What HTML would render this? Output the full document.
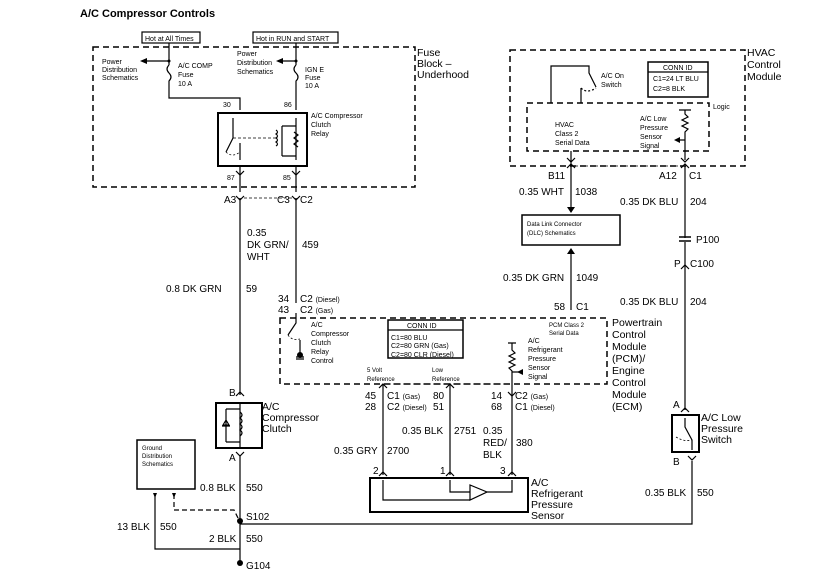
<!DOCTYPE html>
<html><head><meta charset="utf-8"><style>
html,body{margin:0;padding:0;background:#fff}
svg{display:block}
text{font-family:"Liberation Sans",Arial,sans-serif;fill:#000}
.s{font-size:7px}.m{font-size:10px}.l{font-size:10.5px}.xs{font-size:6px}
</style></head><body>
<svg width="836" height="575" viewBox="0 0 836 575" xmlns="http://www.w3.org/2000/svg">
<g fill="none" stroke="#000" stroke-width="1.2">
<rect x="93" y="47" width="322" height="140" stroke-dasharray="6,4" stroke-width="1.5"/>
<rect x="510" y="50" width="235" height="116" stroke-dasharray="6,4" stroke-width="1.5"/>
<rect x="527" y="103" width="182" height="48" stroke-dasharray="6,4" stroke-width="1.5"/>
<rect x="280" y="318" width="327" height="66" stroke-dasharray="6,4" stroke-width="1.5"/>
<rect x="142" y="32" width="58" height="11"/>
<rect x="253" y="32" width="85" height="11"/>
<path d="M169 43V65 M169 61H146 M169 65q-4 4 0 8q4 4 0 8V98H240V110"/>
<path d="M296 43V65 M296 61H278 M296 65q-4 4 0 8q4 4 0 8V110"/>
<rect x="218" y="113" width="89" height="53" stroke-width="2"/>
<path d="M233 118V138L226 152 M240 143V160 M296 118V160 M282 126H296 M282 156H296 M282 126V156"/>
<path d="M294 132l4 3-4 3 4 3-4 3 4 3" />
<path d="M276 130q3 2 0 4q3 2 0 4q3 2 0 4q3 2 0 4" />
<path d="M233 138H276" stroke-dasharray="3,2" stroke-width="0.8"/>
<path d="M226 152q6 6 14 0" stroke-dasharray="2,2" stroke-width="0.8"/>
<path d="M240 166V192 M296 166V192 M240 198V395 M296 198V303"/>
<path d="M236 171l4 4 4-4 M292 171l4 4 4-4 M236 196l4 4 4-4 M292 196l4 4 4-4"/>
<path d="M244 198H292" stroke-dasharray="3,2" stroke-width="0.7"/>
<rect x="216" y="403" width="46" height="45" stroke-width="2"/>
<path d="M240 403V448 M226 409H240 M226 442H240 M226 409V442 M222 426h8 M226 420l-3 5h6z"/>
<path d="M240 412q4 3 0 6q4 3 0 6q4 3 0 6q4 3 0 6"/>
<path d="M236 396l4-4 4 4 M236 452l4 4 4-4"/>
<path d="M240 456V563"/>
<rect x="137" y="440" width="58" height="49" stroke-width="1.5"/>
<path d="M155 494V549H240"/>
<path d="M174 494V510H234l6 12" stroke-dasharray="5,3"/>
<path d="M240 524H692V461"/>
<rect x="388" y="320" width="75" height="38" stroke-width="1.5"/>
<path d="M388 330H463"/>
<path d="M296 313V323L288 335 M300 340V355 M296 357h8 M296 359h8" />
<path d="M288 335q4 6 12 4" stroke-dasharray="2,2" stroke-width="0.8"/>
<path d="M508 343H516 M512 343V350l3 3-6 3 6 3-6 3 6 3-6 3 3 3V388 M512 372H520"/>
<path d="M383 384V475 M450 384V475 M512 388V475"/>
<path d="M388 384H508" stroke-dasharray="3,2" stroke-width="0.7"/>
<path d="M379 388l4-4 4 4 M446 388l4-4 4 4 M508 392l4 4 4-4 M379 476l4-4 4 4 M446 476l4-4 4 4 M508 476l4-4 4 4"/>
<rect x="370" y="478" width="158" height="34" stroke-width="2"/>
<path d="M383 480V500H470 M450 480V492H470 M470 485V500L487 492z M487 492H512V480"/>
<rect x="648" y="62" width="60" height="35" stroke-width="1.5"/>
<path d="M648 72H708"/>
<path d="M551 103V66H589V73L596 87 M581 88V103"/>
<path d="M581 88q6 6 15 0" stroke-dasharray="2,2"/>
<path d="M679 110H691 M685 110V114l3 3-6 3 6 3-6 3 6 3-3 3V160 M685 140H676"/>
<path d="M571 151V207 M567 158l4 4 4-4 M681 158l4 4 4-4 M567 168l4-4 4 4 M681 168l4-4 4 4"/>
<path d="M575 166H681" stroke-dasharray="3,2" stroke-width="0.7"/>
<path d="M685 166V238 M685 242V410"/>
<path d="M679 237h12 M679 241h12" stroke-width="1.5"/>
<path d="M681 269l4-4 4 4"/>
<rect x="522" y="215" width="98" height="30" stroke-width="1.5"/>
<path d="M571 310V254"/>
<rect x="672" y="415" width="27" height="37" stroke-width="2"/>
<path d="M681 412l4-4 4 4 M685 418V427L692 440V450 M688 456l4 4 4-4"/>
<path d="M676 437q8 5 16 3" stroke-dasharray="2,2" stroke-width="0.8"/>
</g>
<g fill="#000">
<path d="M140 61l7-3v6z M276 61l7-3v6z M567 207h8l-4 6z M567 254h8l-4-6z M674 140l6-3v6z M517 372l6-3v6z"/>
<path d="M153 493h4l-2 5z M172 493h4l-2 5z"/>
<circle cx="240" cy="521" r="3"/><circle cx="240" cy="563" r="3"/>
<circle cx="169" cy="61" r="1.5"/><circle cx="296" cy="61" r="1.5"/>
<circle cx="300" cy="355" r="3"/>
</g>
<text x="80" y="17" style="font-size:11px;font-weight:bold">A/C Compressor Controls</text>
<text x="145" y="41" class="s">Hot at All Times</text>
<text x="256" y="41" class="s">Hot in RUN and START</text>
<text x="102" y="64" class="s">Power</text><text x="102" y="72" class="s">Distribution</text><text x="102" y="80" class="s">Schematics</text>
<text x="237" y="56" class="s">Power</text><text x="237" y="65" class="s">Distribution</text><text x="237" y="74" class="s">Schematics</text>
<text x="178" y="68" class="s">A/C COMP</text><text x="178" y="77" class="s">Fuse</text><text x="178" y="86" class="s">10 A</text>
<text x="305" y="72" class="s">IGN E</text><text x="305" y="80" class="s">Fuse</text><text x="305" y="88" class="s">10 A</text>
<text x="223" y="107" class="s">30</text><text x="284" y="107" class="s">86</text>
<text x="311" y="118" class="s">A/C Compressor</text><text x="311" y="127" class="s">Clutch</text><text x="311" y="136" class="s">Relay</text>
<text x="227" y="180" class="s">87</text><text x="283" y="180" class="s">85</text>
<text x="417" y="56" class="l">Fuse</text><text x="417" y="67" class="l">Block –</text><text x="417" y="78" class="l">Underhood</text>
<text x="224" y="203" class="m">A3</text><text x="277" y="203" class="m">C3</text><text x="300" y="203" class="m">C2</text>
<text x="247" y="236" class="m">0.35</text><text x="247" y="248" class="m">DK GRN/</text><text x="247" y="260" class="m">WHT</text>
<text x="302" y="248" class="m">459</text>
<text x="166" y="292" class="m">0.8 DK GRN</text><text x="246" y="292" class="m">59</text>
<text x="278" y="302" class="m">34</text><text x="300" y="302" class="m">C2 <tspan class="s">(Diesel)</tspan></text>
<text x="278" y="313" class="m">43</text><text x="300" y="313" class="m">C2 <tspan class="s">(Gas)</tspan></text>
<text x="311" y="327" class="s">A/C</text><text x="311" y="336" class="s">Compressor</text><text x="311" y="345" class="s">Clutch</text><text x="311" y="354" class="s">Relay</text><text x="311" y="363" class="s">Control</text>
<text x="407" y="328" class="s">CONN ID</text>
<text x="391" y="340" class="s">C1=80 BLU</text><text x="391" y="348" class="s">C2=80 GRN (Gas)</text><text x="391" y="357" class="s">C2=80 CLR (Diesel)</text>
<text x="367" y="372" class="xs">5 Volt</text><text x="367" y="381" class="xs">Reference</text>
<text x="432" y="372" class="xs">Low</text><text x="432" y="381" class="xs">Reference</text>
<text x="549" y="327" class="xs">PCM Class 2</text><text x="549" y="335" class="xs">Serial Data</text>
<text x="528" y="343" class="s">A/C</text><text x="528" y="352" class="s">Refrigerant</text><text x="528" y="361" class="s">Pressure</text><text x="528" y="370" class="s">Sensor</text><text x="528" y="379" class="s">Signal</text>
<text x="612" y="326" class="l">Powertrain</text><text x="612" y="338" class="l">Control</text><text x="612" y="350" class="l">Module</text><text x="612" y="362" class="l">(PCM)/</text><text x="612" y="374" class="l">Engine</text><text x="612" y="386" class="l">Control</text><text x="612" y="398" class="l">Module</text><text x="612" y="410" class="l">(ECM)</text>
<text x="365" y="399" class="m">45</text><text x="387" y="399" class="m">C1 <tspan class="s">(Gas)</tspan></text>
<text x="365" y="410" class="m">28</text><text x="387" y="410" class="m">C2 <tspan class="s">(Diesel)</tspan></text>
<text x="433" y="399" class="m">80</text><text x="433" y="410" class="m">51</text>
<text x="491" y="399" class="m">14</text><text x="515" y="399" class="m">C2 <tspan class="s">(Gas)</tspan></text>
<text x="491" y="410" class="m">68</text><text x="515" y="410" class="m">C1 <tspan class="s">(Diesel)</tspan></text>
<text x="402" y="434" class="m">0.35 BLK</text><text x="454" y="434" class="m">2751</text>
<text x="483" y="434" class="m">0.35</text><text x="483" y="446" class="m">RED/</text><text x="483" y="458" class="m">BLK</text><text x="516" y="446" class="m">380</text>
<text x="334" y="454" class="m">0.35 GRY</text><text x="387" y="454" class="m">2700</text>
<text x="373" y="474" class="m">2</text><text x="440" y="474" class="m">1</text><text x="500" y="474" class="m">3</text>
<text x="531" y="486" class="l">A/C</text><text x="531" y="497" class="l">Refrigerant</text><text x="531" y="508" class="l">Pressure</text><text x="531" y="519" class="l">Sensor</text>
<text x="229" y="396" class="m">B</text><text x="229" y="461" class="m">A</text>
<text x="262" y="410" class="l">A/C</text><text x="262" y="421" class="l">Compressor</text><text x="262" y="432" class="l">Clutch</text>
<text x="142" y="450" class="xs">Ground</text><text x="142" y="458" class="xs">Distribution</text><text x="142" y="466" class="xs">Schematics</text>
<text x="200" y="491" class="m">0.8 BLK</text><text x="246" y="491" class="m">550</text>
<text x="246" y="520" class="m">S102</text>
<text x="117" y="530" class="m">13 BLK</text><text x="160" y="530" class="m">550</text>
<text x="209" y="542" class="m">2 BLK</text><text x="246" y="542" class="m">550</text>
<text x="246" y="569" class="m">G104</text>
<text x="601" y="78" class="s">A/C On</text><text x="601" y="87" class="s">Switch</text>
<text x="663" y="70" class="s">CONN ID</text><text x="653" y="81" class="s">C1=24 LT BLU</text><text x="653" y="91" class="s">C2=8 BLK</text>
<text x="713" y="109" class="s">Logic</text>
<text x="555" y="127" class="s">HVAC</text><text x="555" y="136" class="s">Class 2</text><text x="555" y="145" class="s">Serial Data</text>
<text x="640" y="121" class="s">A/C Low</text><text x="640" y="130" class="s">Pressure</text><text x="640" y="139" class="s">Sensor</text><text x="640" y="148" class="s">Signal</text>
<text x="747" y="56" class="l">HVAC</text><text x="747" y="68" class="l">Control</text><text x="747" y="80" class="l">Module</text>
<text x="548" y="179" class="m">B11</text><text x="659" y="179" class="m">A12</text><text x="689" y="179" class="m">C1</text>
<text x="519" y="195" class="m">0.35 WHT</text><text x="575" y="195" class="m">1038</text>
<text x="620" y="205" class="m">0.35 DK BLU</text><text x="690" y="205" class="m">204</text>
<text x="527" y="226" class="xs">Data Link Connector</text><text x="527" y="235" class="xs">(DLC) Schematics</text>
<text x="696" y="243" class="m">P100</text>
<text x="674" y="267" class="m">P</text><text x="690" y="267" class="m">C100</text>
<text x="503" y="281" class="m">0.35 DK GRN</text><text x="576" y="281" class="m">1049</text>
<text x="554" y="310" class="m">58</text><text x="576" y="310" class="m">C1</text>
<text x="620" y="305" class="m">0.35 DK BLU</text><text x="690" y="305" class="m">204</text>
<text x="673" y="408" class="m">A</text><text x="701" y="421" class="l">A/C Low</text><text x="701" y="432" class="l">Pressure</text><text x="701" y="443" class="l">Switch</text>
<text x="673" y="465" class="m">B</text>
<text x="645" y="496" class="m">0.35 BLK</text><text x="697" y="496" class="m">550</text>
</svg>
</body></html>
